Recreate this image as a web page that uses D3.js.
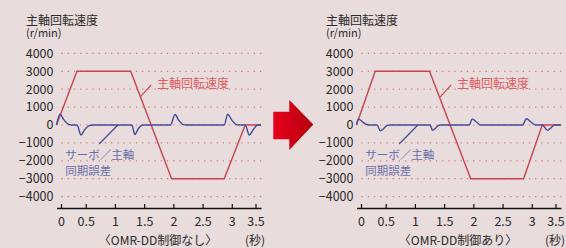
<!DOCTYPE html>
<html>
<head>
<meta charset="utf-8">
<script src="https://cdn.jsdelivr.net/npm/d3@7"></script>
<style>
  body { margin: 0; background: #e8dcdc; }
  text { font-family: "Noto Sans CJK JP", "Noto Sans", sans-serif; }
</style>
</head>
<body>
<div id="viz"></div>
<script>
// dados - chart data
var timeTicks = [0, 0.5, 1, 1.5, 2, 2.5, 3, 3.5];
var speedTicks = [4000, 3000, 2000, 1000, 0, -1000, -2000, -3000, -4000];
var captions = ['〈OMR-DD制御なし〉', '〈OMR-DD制御あり〉'];

// spindle speed (r/min) : [time s, value]
var speedWithout = [[0, 0], [0.35, 3000], [1.27, 3000], [1.97, -3000], [2.87, -3000], [3.23, 0], [3.5, 0]];
var speedWith = [[0, 0], [0.32, 3000], [1.25, 3000], [1.955, -3000], [2.86, -3000], [3.18, 0], [3.5, 0]];

// servo / spindle sync error
var errorWithout = [[0, 0], [0.06, 600], [0.12, 320], [0.19, 70], [0.25, 0], [0.35, 0], [0.42, -560],
  [0.48, -270], [0.55, -50], [0.62, 0], [1.29, 0], [1.34, -530], [1.4, -210], [1.47, 0], [1.95, 0],
  [2.03, 590], [2.09, 270], [2.16, 40], [2.22, 0], [2.87, 0], [2.93, 600], [3.0, 270], [3.07, 40],
  [3.12, 0], [3.23, 0], [3.3, -560], [3.37, -250], [3.44, 0], [3.5, 0]];
var errorWith = [[0, 0], [0.03, 340], [0.09, 210], [0.16, 50], [0.22, 0], [0.35, 0], [0.41, -330],
  [0.47, -180], [0.53, -20], [0.58, 0], [1.26, 0], [1.3, -300], [1.36, -150], [1.42, 0], [1.93, 0],
  [1.98, 340], [2.05, 180], [2.12, 0], [2.84, 0], [2.91, 350], [2.98, 180], [3.07, 0], [3.18, 0],
  [3.27, -300], [3.33, -150], [3.39, 0], [3.5, 0]];

var W = 566, H = 248;

var svg = d3.select('#viz').append('svg')
  .attr('width', W).attr('height', H);

svg.append('rect').attr('width', W).attr('height', H).attr('fill', '#e8dcdc');

// seta do meio - middle arrow
var grad = svg.append('defs').append('linearGradient').attr('id', 'arrowGrad')
  .attr('x1', '0%').attr('x2', '100%').attr('y1', '0%').attr('y2', '0%');
grad.append('stop').attr('offset', '0%').attr('stop-color', '#e8001c');
grad.append('stop').attr('offset', '100%').attr('stop-color', '#b3000e');

svg.append('path')
  .attr('d', 'M273.3,111.7 L289.3,111.7 L289.3,100 L313.3,124.5 L289.3,150 L289.3,139.3 L273.3,139.3 Z')
  .attr('fill', 'url(#arrowGrad)');

function drawPanel(offset, speed, error, caption) {
  var g = svg.append('g').attr('transform', 'translate(' + offset + ',0)');

  var x = d3.scaleLinear().domain([0, 3.5]).range([56.5, 261]);
  var y = d3.scaleLinear().domain([-4000, 4000]).range([196.6, 53.4]);

  // grid
  g.selectAll('.grid').data(speedTicks).enter().append('line')
    .attr('x1', x(0) + 5).attr('x2', x(3.5) + 1)
    .attr('y1', function(d) { return y(d); }).attr('y2', function(d) { return y(d); })
    .attr('stroke', '#d9787c').attr('stroke-width', 1.2)
    .attr('stroke-dasharray', '1.3,4.9');

  // y labels
  g.selectAll('.ylab').data(speedTicks).enter().append('text')
    .attr('x', x(0) - 3).attr('y', function(d) { return y(d); })
    .attr('dy', '0.35em').attr('text-anchor', 'end')
    .attr('font-size', '12.5px').attr('fill', '#2a2a2a')
    .text(function(d) { return d < 0 ? '\u2212' + (-d) : d; });

  // titulo - axis title
  g.append('text').attr('x', 26).attr('y', 20.5).attr('dy', '0.38em')
    .attr('font-size', '12px').attr('fill', '#2a2a2a').text('主軸回転速度');
  g.append('text').attr('x', 26).attr('y', 33.5).attr('dy', '0.35em')
    .attr('font-size', '11px').attr('fill', '#2a2a2a').text('(r/min)');

  // x axis
  var axis = g.append('g').attr('transform', 'translate(0,208)')
    .call(d3.axisBottom(x).tickValues(timeTicks).tickSizeInner(-4).tickSizeOuter(0).tickPadding(9)
      .tickFormat(function(d) { return d; }));
  axis.select('.domain').attr('stroke', '#111').attr('stroke-width', 1.3);
  axis.selectAll('.tick line').attr('stroke', '#111').attr('stroke-width', 1.2);
  axis.selectAll('.tick text').attr('font-size', '12.5px').attr('fill', '#2a2a2a')
    .style('font-family', '"Noto Sans CJK JP", sans-serif');
  axis.selectAll('.tick').filter(function(d) { return d === 0; })
    .attr('transform', 'translate(' + (x(0) + 5) + ',0)');
  axis.selectAll('.tick').filter(function(d) { return d === 3.5; })
    .attr('transform', 'translate(' + (x(3.5) - 5) + ',0)');

  g.append('text').attr('x', 158).attr('y', 240.5).attr('dy', '0.36em')
    .attr('text-anchor', 'middle').attr('font-size', '12px').attr('fill', '#2a2a2a')
    .text(caption);
  g.append('text').attr('x', 265).attr('y', 240.5).attr('dy', '0.36em')
    .attr('text-anchor', 'end').attr('font-size', '12px').attr('fill', '#2a2a2a')
    .text('(秒)');

  var line = d3.line().x(function(d) { return x(d[0]); }).y(function(d) { return y(d[1]); });
  var smooth = d3.line().x(function(d) { return x(d[0]); }).y(function(d) { return y(d[1]); })
    .curve(d3.curveMonotoneX);

  g.append('path').datum(speed).attr('d', line)
    .attr('fill', 'none').attr('stroke', '#c94550').attr('stroke-width', 1.4);
  g.append('path').datum(error).attr('d', smooth)
    .attr('fill', 'none').attr('stroke', '#454a9c').attr('stroke-width', 1.4);

  // anotacoes - annotations
  g.append('line')
    .attr('x1', x(1.43)).attr('y1', y(1560)).attr('x2', x(1.62)).attr('y2', y(2240))
    .attr('stroke', '#c94550').attr('stroke-width', 1.2);
  g.append('text').attr('x', x(1.72)).attr('y', y(2330)).attr('dy', '0.38em')
    .attr('font-size', '12px').attr('fill', '#e45a5e').text('主軸回転速度');

  g.append('line')
    .attr('x1', x(0.73)).attr('y1', y(-1060)).attr('x2', x(1.05)).attr('y2', y(0))
    .attr('stroke', '#454a9c').attr('stroke-width', 1.2);
  g.append('text').attr('x', x(0.15)).attr('y', y(-1650)).attr('dy', '0.38em')
    .attr('font-size', '11.5px').attr('fill', '#6a6ea8').text('サーボ／主軸');
  g.append('text').attr('x', x(0.15)).attr('y', y(-2560)).attr('dy', '0.38em')
    .attr('font-size', '11.5px').attr('fill', '#6a6ea8').text('同期誤差');
}

drawPanel(0, speedWithout, errorWithout, captions[0]);
drawPanel(300, speedWith, errorWith, captions[1]);
</script>
</body>
</html>
